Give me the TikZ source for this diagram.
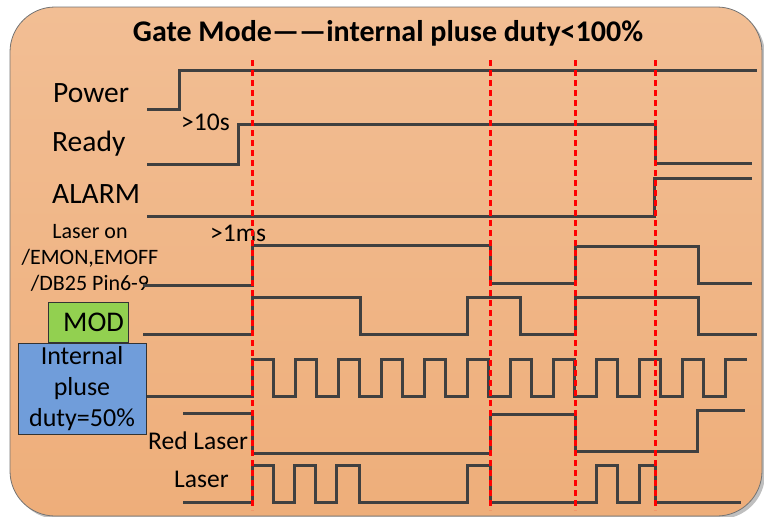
\documentclass[tikz,border=0pt]{standalone}
\usepackage{fontspec}
\setmainfont{Carlito}
\usepackage{tikz}
\usetikzlibrary{positioning}
\definecolor{panelfill}  {RGB}{241,184,138}
\definecolor{paneltop}   {RGB}{242,190,148}
\definecolor{panelbot}   {RGB}{238,174,122}
\definecolor{sigdark}    {RGB}{64,64,64}
\definecolor{guidered}   {RGB}{255,0,0}
\definecolor{modgreen}   {RGB}{146,208,80}
\definecolor{pulseblue}  {RGB}{112,157,218}

\begin{document}
\begin{tikzpicture}[
  x=1pt, y=-1pt,
  sig/.style={draw=sigdark, line width=3pt},
  guide/.style={draw=guidered, line width=3pt, dash pattern=on 6pt off 4pt},
  biglabel/.style={anchor=west, inner sep=0pt, font=\fontsize{29.5}{31}\selectfont},
  smalllabel/.style={anchor=west, inner sep=0pt, font=\fontsize{25.5}{27}\selectfont},
  modbox/.style={draw=black!80, line width=0.8pt, fill=modgreen, text width=72pt,
                 align=right, inner xsep=4pt, minimum height=40pt,
                 font=\fontsize{28.5}{30}\selectfont},
  pulsebox/.style={draw=black!80, line width=0.8pt, fill=pulseblue, text width=120pt,
                 align=center, inner xsep=4pt, minimum height=83pt,
                 font=\fontsize{26}{31}\selectfont},
]
\useasboundingbox (0,0) rectangle (764,517);

% Panel
\fill[black!25, rounded corners=45pt] (13,10) rectangle (765,519);
\shade[top color=paneltop, bottom color=panelbot, draw=black!55, line width=0.8pt,
       rounded corners=45pt] (10,7) rectangle (762,516);

% Title
\node[font=\bfseries\fontsize{30}{32}\selectfont] (title) at (388,33)
  {Gate Mode——internal pluse duty<100\%};

% Labels
\node[biglabel] (power) at (53,93)  {Power};
\node[biglabel] (ready) at (52,144) {Ready};
\node[biglabel] (alarm) at (52,194) {ALARM};
\node[align=center, inner sep=0pt, font=\fontsize{22}{26}\selectfont] (laseron) at (90,258)
  {Laser on\\/EMON,EMOFF\\/DB25 Pin6-9};
\node[smalllabel] (t10s) at (181,122) {>10s};
\node[smalllabel] (t1ms) at (210,233) {>1ms};
\node[modbox] (mod) at (88,322) {MOD};
\node[pulsebox] (pulse) at (82,388.5) {Internal\\pluse\\duty=50\%};
\node[smalllabel] (redlaser) at (148,441) {Red Laser};
\node[smalllabel] (laser) at (174,479) {Laser};

% Signals
\draw[sig] (147,109) -- (179,109) |- (757,70);
\draw[sig] (147,164) -- (238,164) |- (655,124) |- (752,163);
\draw[sig] (147,216) -- (654,216) |- (752,178);
\draw[sig] (143,285) -- (252,285) |- (490,245) |- (575,283) |- (698,246) |- (752,283);
\draw[sig] (143,334) -- (252,334) |- (360,297) |- (467,334) |- (520,297)
           |- (575,334) |- (698,297) |- (757,334);
\draw[sig] (147,396) -- (252,396)
  \foreach \k in {0,...,10} { -- ++(0,-37) -- ++(21.5,0) -- ++(0,37) -- ++(21.5,0) }
  -- ++(0,-37) -- (747,359);
\draw[sig] (183,413) -- (252,413) |- (490,453) |- (575,414) |- (697,451) |- (745,410);
\draw[sig] (183,502) -- (252,502) |- (273,465) |- (294,502) |- (315,465) |- (336,502)
           |- (359,465) |- (467,502) |- (490,465) |- (596,502) |- (617,465)
           |- (639,502) |- (655,465) |- (741,502);

% Timing guides
\foreach \x in {252,490,575,655}
  \draw[guide] (\x,60) -- (\x,510);

\end{tikzpicture}
\end{document}
